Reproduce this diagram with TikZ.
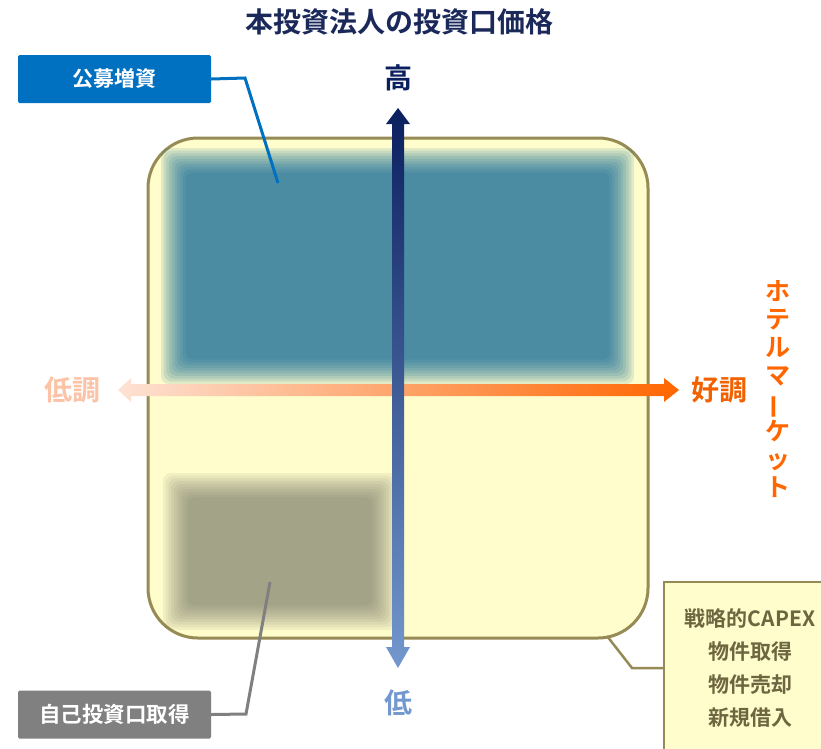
\documentclass[tikz,border=0pt]{standalone}
\usepackage{fontspec}
\setmainfont{Noto Sans CJK JP}[BoldFont={Noto Sans CJK JP Bold}]
\usepackage{graphicx}
\definecolor{titlec}{HTML}{1A285A}
\definecolor{navy}{HTML}{0A1F5E}
\definecolor{lblue}{HTML}{7398CE}
\definecolor{peach}{HTML}{FCC3A6}
\definecolor{peachl}{HTML}{FDE2D4}
\definecolor{orng}{HTML}{FF6600}
\definecolor{cream}{HTML}{FFFDCB}
\definecolor{olive}{HTML}{968B55}
\definecolor{olivetxt}{HTML}{6E6640}
\definecolor{boxblue}{HTML}{0070C0}
\definecolor{boxgray}{HTML}{808080}
\definecolor{tealc}{HTML}{0C6798}
\definecolor{grayc}{HTML}{6A6A60}
\tikzset{
  lab/.style={font=\bfseries\fontsize{28}{30}\selectfont, inner sep=0pt},
  tagbox/.style={minimum width=193pt, minimum height=48pt, rounded corners=1.5pt, text=white, font=\bfseries\fontsize{21}{24}\selectfont, inner sep=0pt},
  conn/.style={line width=3pt},
}
\begin{document}
\begin{tikzpicture}[x=1pt,y=-1pt]
\useasboundingbox (0,0) rectangle (821,748);
% title
\node[lab, text=titlec] (title) at (399,22) {本投資法人の投資口価格};
% big square
\node[draw=olive, fill=cream, line width=3pt, rounded corners=50pt, minimum width=500pt, minimum height=500pt] (sq) at (398,388) {};
% blurred regions
\foreach \i in {0,...,9}{
  \fill[tealc, opacity=0.12, rounded corners=8pt] ({161+2.7*\i},{148+2.7*\i}) rectangle ({634-2.7*\i},{384-2.7*\i});
  \fill[grayc, opacity=0.085, rounded corners=8pt] ({163+2.7*\i},{473+2.7*\i}) rectangle ({397-2.7*\i},{630-2.7*\i});
}
% horizontal arrow
\shade[left color=peachl, right color=orng]
  (118,390) -- (131,378) -- (131,384) -- (664,384) -- (664,378) -- (679,390) -- (664,402) -- (664,396) -- (131,396) -- (131,402) -- cycle;
% vertical arrow
\shade[top color=navy, bottom color=lblue]
  (398,108) -- (410,124) -- (404,124) -- (404,647) -- (410,647) -- (398,668) -- (386,647) -- (392,647) -- (392,124) -- (386,124) -- cycle;
% axis labels
\node[lab, text=navy] (hi) at (398,78) {高};
\node[lab, text=lblue] (lo) at (398,703) {低};
\node[lab, text=peach] (weak) at (72,390) {低調};
\node[lab, text=orng!95!black] (strong) at (719,390) {好調};
\node[font=\bfseries\fontsize{25}{28}\selectfont, text=orng, align=center, inner sep=0pt] (mkt) at (778,389)
  {ホ\\テ\\ル\\マ\\\rotatebox[origin=c]{90}{ー}\\ケ\\ッ\\ト};
% tag boxes
\node[tagbox, fill=boxblue] (pub) at (114.5,79) {公募増資};
\node[tagbox, fill=boxgray, font=\bfseries\fontsize{21.5}{24}\selectfont] (buy) at (114.5,714.5) {自己投資口取得};
\coordinate (pubk) at (245,78);
\coordinate (pubend) at (278,183);
\coordinate (buyk) at (246,714);
\coordinate (buyend) at (270,582);
\draw[conn, boxblue] (pub.east) -- (pubk) -- (pubend);
\draw[conn, boxgray] (buy.east) -- (buyk) -- (buyend);
% capex box
\node[draw=olive, fill=cream, line width=2.5pt, minimum width=172pt, minimum height=172pt, text=olivetxt,
  font=\bfseries\fontsize{21}{33}\selectfont, align=center, inner sep=0pt] (cap) at (750,668)
  {戦略的CAPEX\\物件取得\\物件売却\\新規借入};
\coordinate (capk) at (632,668);
\coordinate (capend) at (607,636);
\draw[line width=2.5pt, olive] (cap.west) -- (capk) -- (capend);
\end{tikzpicture}
\end{document}
